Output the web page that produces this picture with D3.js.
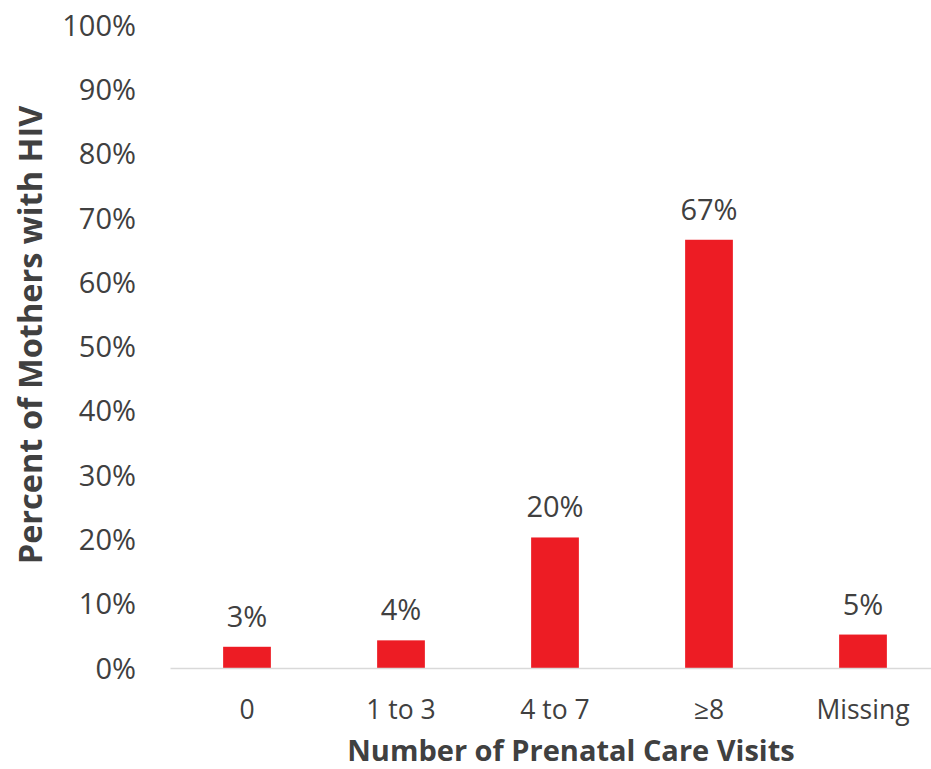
<!DOCTYPE html>
<html>
<head>
<meta charset="utf-8">
<script src="https://cdn.jsdelivr.net/npm/d3@7"></script>
<style>
  html, body { margin: 0; padding: 0; background: #fff; }
  svg { display: block; font-family: "Open Sans", "Noto Sans", sans-serif; }
</style>
</head>
<body>
<svg id="chart" width="931" height="769"></svg>
<script>
// Prenatal care visits among mothers with HIV
const categories = ["0", "1 to 3", "4 to 7", "\u22658", "Missing"];
const percents = [0.033, 0.043, 0.203, 0.666, 0.052];
const yTickValues = [0, 0.1, 0.2, 0.3, 0.4, 0.5, 0.6, 0.7, 0.8, 0.9, 1.0];
const yTitle = "Percent of Mothers with HIV";
const xTitle = "Number of Prenatal Care Visits";

const svg = d3.select("#chart");
const fontFamily = '"Open Sans", "Noto Sans", sans-serif';
const margin = { left: 170, right: -9, top: 25, bottom: 101 };
const W = 931, H = 769;
const textColor = "#404040";
const barColor = "#ED1C24";

const x = d3.scaleBand()
  .domain(categories)
  .range([margin.left, W - margin.right])
  .paddingInner(0.69)
  .paddingOuter(0.345);

const y = d3.scaleLinear()
  .domain([0, 1])
  .range([H - margin.bottom, margin.top]);

const fmt = d3.format(".0%");

// y axis: labels only
const yAxis = svg.append("g")
  .attr("transform", "translate(136,0)")
  .call(d3.axisLeft(y).tickValues(yTickValues).tickFormat(fmt).tickSize(0).tickPadding(0));
yAxis.attr("font-family", fontFamily);
yAxis.select(".domain").remove();
yAxis.selectAll("text")
  .attr("fill", textColor)
  .style("font-size", "29px")
  .attr("dy", "0.35em");

// bars
svg.append("g").selectAll("rect")
  .data(categories)
  .join("rect")
  .attr("x", d => x(d))
  .attr("width", x.bandwidth())
  .attr("y", (d, i) => y(percents[i]))
  .attr("height", (d, i) => y(0) - y(percents[i]))
  .attr("fill", barColor);

// value labels
svg.append("g").selectAll("text")
  .data(categories)
  .join("text")
  .attr("x", d => x(d) + x.bandwidth() / 2)
  .attr("y", (d, i) => y(percents[i]) - 20)
  .attr("text-anchor", "middle")
  .attr("fill", textColor)
  .style("font-size", "29px")
  .text((d, i) => fmt(percents[i]));

// x axis
const xAxis = svg.append("g")
  .attr("transform", `translate(0,${y(0)})`)
  .call(d3.axisBottom(x).tickSize(0).tickPadding(0));
xAxis.attr("font-family", fontFamily);
xAxis.select(".domain")
  .attr("stroke", "#d9d9d9")
  .attr("stroke-width", 1.5);
xAxis.selectAll("text")
  .attr("fill", textColor)
  .style("font-size", "26.5px")
  .attr("y", 51)
  .attr("dy", null);

// axis titles
svg.append("text")
  .attr("x", 571)
  .attr("y", 761)
  .attr("text-anchor", "middle")
  .attr("fill", textColor)
  .style("font-size", "29px")
  .style("font-weight", "bold")
  .text(xTitle);

svg.append("text")
  .attr("transform", "translate(42,335) rotate(-90)")
  .attr("text-anchor", "middle")
  .attr("fill", textColor)
  .style("font-size", "32.5px")
  .style("font-weight", "bold")
  .text(yTitle);
</script>
</body>
</html>
